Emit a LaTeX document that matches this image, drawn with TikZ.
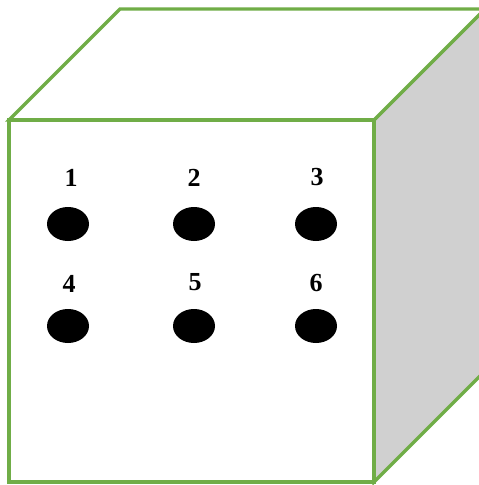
\documentclass[tikz,border=0pt]{standalone}
\usepackage{fontspec}
\setmainfont{Liberation Serif}
\usetikzlibrary{shapes.geometric}
\definecolor{edgegreen}{RGB}{112,173,71}
\definecolor{sidegray}{RGB}{208,208,208}
\tikzset{
  edge/.style={draw=edgegreen, line width=3.2pt, line join=miter},
  dot/.style={ellipse, fill=black, minimum width=42pt, minimum height=34pt, inner sep=0pt},
  num/.style={font=\fontsize{26}{26}\selectfont\bfseries, inner sep=0pt}
}
\begin{document}
\begin{tikzpicture}[x=1pt,y=-1pt]
\useasboundingbox (0,0) rectangle (479,485);
\coordinate (ftl) at (9,120);
\coordinate (ftr) at (374,120);
\coordinate (fbr) at (374,482);
\coordinate (fbl) at (9,482);
\coordinate (btl) at (120,9);
\coordinate (btr) at (485,9);
\coordinate (bbr) at (485,371);
\begin{scope}
\clip (0,0) rectangle (479,485);
\path[edge, fill=sidegray] (ftr) -- (btr) -- (bbr) -- (fbr) -- cycle;
\path[edge, fill=white] (ftl) -- (btl) -- (btr) -- (ftr) -- cycle;
\path[edge, fill=white] (ftl) -- (ftr) -- (fbr) -- (fbl) -- cycle;
\end{scope}
\node[dot] (d1) at (68,224) {};
\node[dot] (d2) at (194,224) {};
\node[dot] (d3) at (316,224) {};
\node[dot] (d4) at (68,326) {};
\node[dot] (d5) at (194,326) {};
\node[dot] (d6) at (316,326) {};
\node[num] (n1) at (71,177.5) {1};
\node[num] (n2) at (194,177.5) {2};
\node[num] (n3) at (317,177.5) {3};
\node[num] (n4) at (69,283.5) {4};
\node[num] (n5) at (195,282.5) {5};
\node[num] (n6) at (316,283.5) {6};
\end{tikzpicture}
\end{document}
